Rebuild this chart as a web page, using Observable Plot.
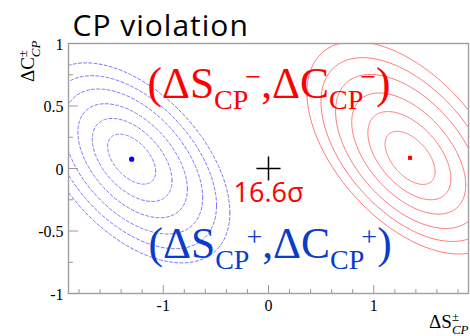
<!DOCTYPE html>
<html><head><meta charset="utf-8">
<script src="https://cdn.jsdelivr.net/npm/d3@7"></script>
<script src="https://cdn.jsdelivr.net/npm/@observablehq/plot@0.6"></script>
<style>
body{margin:0;background:#fff;}
#chart{width:470px;height:336px;position:relative;}
</style></head><body><div id="chart"></div>
<script>
// ---- data ----
const xMajor = [-1, 0, 1];
const xMinor = [-1.8,-1.6,-1.4,-1.2,-0.8,-0.6,-0.4,-0.2,0.2,0.4,0.6,0.8,1.2,1.4,1.6,1.8];
const yMajor = [-1, -0.5, 0, 0.5, 1];
const yMinor = [-0.75, -0.25, 0.25, 0.75];

const series  = ["plus", "minus"];
const centerX = [-1.30, 1.345];
const centerY = [0.075, 0.085];
const sigmaX  = [0.228, 0.2375];
const sigmaY  = [0.200, 0.2125];
const rho     = [-0.5, -0.52];
const driftX  = [0.007, -0.010];
const driftY  = [-0.010, 0.027];
const levels  = [1, 1.66, 2.28, 2.9, 3.46, 4];

const labels  = ["(ΔS_{CP}^{+},ΔC_{CP}^{+})", "(ΔS_{CP}^{−},ΔC_{CP}^{−})"];
const labelX  = [-1.14, -1.15];
const labelY  = [-0.714, 0.562];
const significance = ["16.6σ"];
const sigX = [0], sigY = [-0.27];
const crossX = [0], crossY = [0];
const title = ["CP violation"];
const xTitle = ["ΔS^{±}_{CP}"];
const yTitle = ["ΔC^{±}_{CP}"];

// ---- contour rings ----
const rings = [];
series.forEach((s, si) => {
  levels.forEach((L, li) => {
    const cx = centerX[si] + driftX[si] * (L - 1);
    const cy = centerY[si] + driftY[si] * (L - 1);
    const r = rho[si], q = Math.sqrt(1 - r * r);
    for (let k = 0; k <= 180; k++) {
      const t = 2 * Math.PI * k / 180;
      rings.push({series: s, ring: s + li,
        x: cx + sigmaX[si] * L * Math.cos(t),
        y: cy + sigmaY[si] * L * (r * Math.cos(t) + q * Math.sin(t))});
    }
  });
});
const centers = series.map((s, i) => ({series: s, x: centerX[i], y: centerY[i]}));

const W = 470, H = 336, mL = 68, mR = 2, mT = 43, mB = 43;
const innerW = W - mL - mR, innerH = H - mT - mB;
const serif = "Liberation Serif";
const sans = "Open Sans";
const tickColor = "#999";

const chart = Plot.plot({
  width: W, height: H,
  marginLeft: mL, marginRight: mR, marginTop: mT, marginBottom: mB,
  x: {domain: [-1.9, 1.9]},
  y: {domain: [-1, 1]},
  style: {background: "#fff"},
  marks: [
    Plot.line(rings.filter(d => d.series === "plus"), {x: "x", y: "y", z: "ring", stroke: "#7878ff", strokeWidth: 1, strokeDasharray: "3,2.2", clip: true}),
    Plot.line(rings.filter(d => d.series === "minus"), {x: "x", y: "y", z: "ring", stroke: "#ff7a7a", strokeWidth: 1, clip: true}),
    Plot.frame({stroke: "#a0a0a0", strokeWidth: 1.4}),
    Plot.tickX(xMajor, {x: d => d, insetTop: innerH - 8, stroke: tickColor}),
    Plot.tickX(xMinor, {x: d => d, insetTop: innerH - 4, stroke: tickColor}),
    Plot.tickY(yMajor, {y: d => d, insetRight: innerW - 10, stroke: tickColor}),
    Plot.tickY(yMinor, {y: d => d, insetRight: innerW - 5, stroke: tickColor}),
    Plot.axisX(xMajor, {tickSize: 0, tickPadding: 6, fontSize: 16, fontFamily: serif, tickFormat: d => String(d), label: null}),
    Plot.axisY(yMajor, {tickSize: 0, tickPadding: 5, fontSize: 16, fontFamily: serif, tickFormat: d => String(d), label: null, dy: 1}),
    Plot.dot(centers.filter(d => d.series === "plus"), {x: "x", y: "y", r: 2.6, fill: "#0000ff", stroke: null}),
    Plot.dot(centers.filter(d => d.series === "minus"), {x: "x", y: "y", r: 2.3, symbol: "square", fill: "#ff0000", stroke: null}),
    Plot.dot(crossX.map((x, i) => ({x, y: crossY[i]})), {x: "x", y: "y", symbol: "plus", r: 7.8, stroke: "#000", strokeWidth: 1.5}),
    Plot.text([labels[1]], {x: () => labelX[1], y: () => labelY[1], text: d => d, fill: "#ff0000", fontSize: 43.5, fontFamily: serif, textAnchor: "start", lineAnchor: "bottom"}),
    Plot.text([labels[0]], {x: () => labelX[0], y: () => labelY[0], text: d => d, fill: "#0a3ccc", fontSize: 43.5, fontFamily: serif, textAnchor: "start", lineAnchor: "bottom"}),
    Plot.text(significance, {x: () => sigX[0], y: () => sigY[0], text: d => d, fill: "#ff0000", fontSize: 27, fontFamily: sans, textAnchor: "middle", lineAnchor: "bottom"}),
    Plot.text(title, {frameAnchor: "top-left", text: d => d, dx: 4, dy: -7.5, fontSize: 30, fontFamily: sans, textAnchor: "start", lineAnchor: "bottom", fill: "#000"}),
    Plot.text(xTitle, {frameAnchor: "bottom-right", text: d => d, dy: 34, fontSize: 19, fontFamily: serif, textAnchor: "end", lineAnchor: "bottom", fill: "#000"}),
    Plot.text(yTitle, {frameAnchor: "top-left", text: d => d, dx: -35, dy: -3, rotate: -90, fontSize: 19, fontFamily: serif, textAnchor: "end", lineAnchor: "bottom", fill: "#000"})
  ]
});
document.getElementById("chart").appendChild(chart);

// ---- rich text (sub/superscripts) ----
function richText(el, o) {
  const src = el.textContent;
  const tokens = src.match(/(_\{[^}]*\}|\^\{[^}]*\}|[^_^]+)/g);
  while (el.firstChild) el.removeChild(el.firstChild);
  let off = 0, prev = null, prevType = null;
  const ns = "http://www.w3.org/2000/svg";
  tokens.forEach(tok => {
    const ts = document.createElementNS(ns, "tspan");
    let type = "n", txt = tok;
    if (tok.startsWith("_{")) { type = "sub"; txt = tok.slice(2, -1); }
    else if (tok.startsWith("^{")) { type = "sup"; txt = tok.slice(2, -1); }
    ts.textContent = txt;
    let target = 0;
    if (type === "sub") { target = o.subDy; ts.setAttribute("font-size", o.small); if (o.italicSub) ts.setAttribute("font-style", "italic"); }
    if (type === "sup") { target = o.supDy; ts.setAttribute("font-size", o.small); }
    ts.setAttribute("dy", target - off);
    off = target;
    el.appendChild(ts);
    if (o.stacked && prev && prevType === "sup" && type === "sub") {
      ts.setAttribute("dx", -prev.getComputedTextLength());
    } else if (type === "sup" && o.supDx) {
      ts.setAttribute("dx", o.supDx);
    }
    prev = ts; prevType = type;
  });
}
d3.select(chart).selectAll("text").each(function() {
  const t = this.textContent;
  if (t === labels[0] || t === labels[1]) richText(this, {small: 28, subDy: 11, supDy: -12, supDx: -3});
  else if (t === xTitle[0] || t === yTitle[0]) richText(this, {small: 13, subDy: 6, supDy: -7, stacked: true, italicSub: true});
  else if (t === title[0]) this.style.letterSpacing = "1px";
});
</script></body></html>
